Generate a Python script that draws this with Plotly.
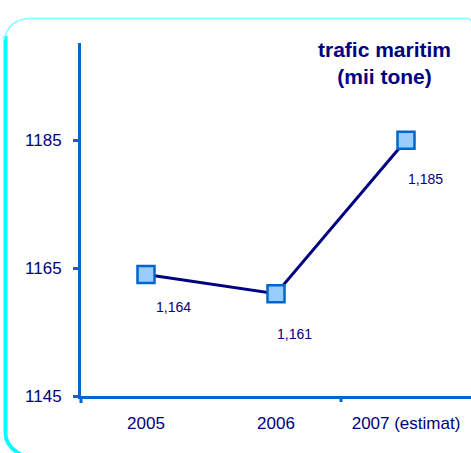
import plotly.graph_objects as go

# ---- data ----
categories = ["2005", "2006", "2007 (estimat)"]
values = [1164, 1161, 1185]
value_labels = ["1,164", "1,161", "1,185"]
y_ticks = [1145, 1165, 1185]
y_tick_labels = ["1145", "1165", "1185"]
title_text = "trafic maritim<br>(mii tone)"

W, H = 471, 453
L, R, T, B = 81, 0, 43, 57
PW, PH = W - L - R, H - T - B

def px(x):
    return (x - L) / PW

def py(y):
    return (H - B - y) / PH

NAVY = "#000080"
AXIS = "#0066cc"
FONT = "Liberation Sans, Arial, sans-serif"

fig = go.Figure()
fig.add_trace(go.Scatter(
    x=categories, y=values, mode="lines+markers",
    line=dict(color=NAVY, width=3),
    marker=dict(symbol="square", size=17, color="#99ccff",
                line=dict(color=AXIS, width=2.5)),
    hoverinfo="skip", showlegend=False, cliponaxis=False,
))

label_shifts = [(27, -32), (18, -40), (19, -39)]
annotations = []
for i, (v, t, (dx, dy)) in enumerate(zip(values, value_labels, label_shifts)):
    annotations.append(dict(x=i, y=v, xref="x", yref="y", text=t, showarrow=False,
                            xshift=dx, yshift=dy,
                            font=dict(family=FONT, size=14, color=NAVY)))
annotations.append(dict(x=px(384), y=py(63), xref="paper", yref="paper",
                        text="<b>" + title_text + "</b>", showarrow=False,
                        xanchor="center", yanchor="middle", align="center",
                        font=dict(family=FONT, size=21, color=NAVY)))

shapes = [
    # y-axis extension below x-axis
    dict(type="line", xref="paper", yref="paper", x0=0, x1=0, y0=0, y1=py(403),
         line=dict(color=AXIS, width=3)),
    # x tick between 2006 and 2007
    dict(type="line", xref="x", yref="paper", x0=1.5, x1=1.5, y0=0, y1=py(402),
         line=dict(color=AXIS, width=3)),
    # cyan frame: left thick edge
    dict(type="path", xref="paper", yref="paper",
         path=f"M {px(5.5)},{py(36)} L {px(5.5)},{py(434)} Q {px(6)},{py(447)} {px(22)},{py(455)}",
         line=dict(color="#00ffff", width=4)),
    # cyan frame: top thin edge with corners
    dict(type="path", xref="paper", yref="paper",
         path=f"M {px(4)},{py(40)} Q {px(8)},{py(20)} {px(29)},{py(18.5)} L {px(467)},{py(18.5)} Q {px(470)},{py(18.5)} {px(471)},{py(21)}",
         line=dict(color="#7fffff", width=1.5)),
]

fig.update_layout(
    width=W, height=H,
    margin=dict(l=L, r=R, t=T, b=B),
    paper_bgcolor="white", plot_bgcolor="white",
    font=dict(family=FONT, color=NAVY),
    annotations=annotations, shapes=shapes,
    xaxis=dict(type="category", range=[-0.5, 2.5], showgrid=False, zeroline=False,
               showline=True, linecolor=AXIS, linewidth=3, ticks="",
               ticklabelstandoff=10,
               tickfont=dict(family=FONT, size=17, color=NAVY), fixedrange=True),
    yaxis=dict(range=[1145, 1200.2], showgrid=False, zeroline=False,
               showline=True, linecolor=AXIS, linewidth=3,
               tickmode="array", tickvals=y_ticks, ticktext=y_tick_labels,
               ticks="outside", ticklen=5, tickwidth=3, tickcolor=AXIS,
               ticklabelstandoff=8,
               tickfont=dict(family=FONT, size=17, color=NAVY), fixedrange=True),
)

fig.write_html("out.html", config={"displayModeBar": False},
               post_script="document.body.style.margin='0px';")
